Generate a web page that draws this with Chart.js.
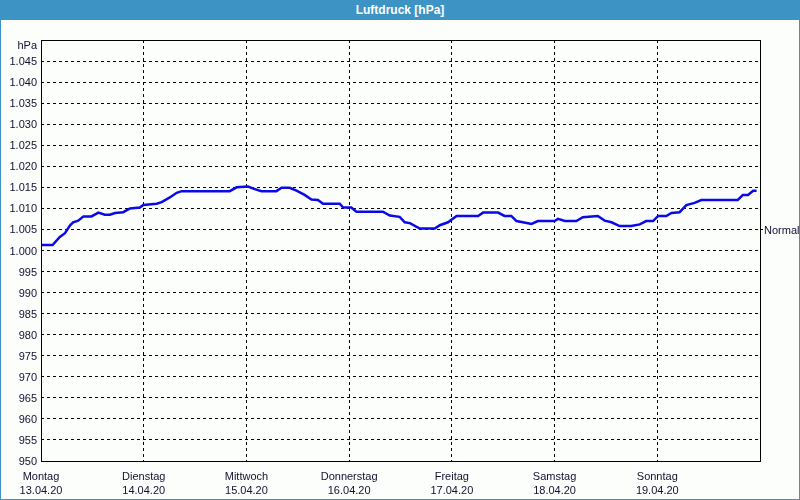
<!DOCTYPE html>
<html>
<head>
<meta charset="utf-8">
<script src="https://cdn.jsdelivr.net/npm/chart.js@4/dist/chart.umd.min.js"></script>
<style>
  html, body { margin: 0; padding: 0; background: #fcfefc; }
  #frame {
    position: absolute; left: 0; top: 0;
    width: 800px; height: 500px;
    box-sizing: border-box;
    border: 1px solid #3c93c4;
    background: #fcfefc;
  }
  #titlebar {
    position: absolute; left: 0; top: 0;
    width: 800px; height: 20px;
    background: #3c93c4;
    color: #fff;
    font: bold 12px "Liberation Sans", sans-serif;
    line-height: 20px;
    text-align: center;
  }
  #wrap { position: absolute; left: 1px; top: 20px; width: 798px; height: 479px; }
</style>
</head>
<body>
<div id="frame"></div>
<div id="titlebar">Luftdruck [hPa]</div>
<div id="wrap"><canvas id="myChart" width="798" height="479"></canvas></div>
<script>
  // hours since Montag 00:00 and pressure readings [hPa]
  const hours = [0, 2.7, 4.4, 5.6, 6.8, 7.5, 8.7, 9.9, 11.8, 13.4, 14.9, 16.1, 17.3, 19.2, 20.8, 23.1, 23.9,
    27.0, 28.2, 30.1, 31.7, 32.9, 44.1, 45.7, 48.4, 49.6, 51.5, 55.0, 56.2, 58.1, 59.7, 61.6, 63.2, 64.7, 65.9,
    69.8, 70.6, 72.5, 73.7, 79.9, 81.5, 83.8, 85.0, 86.2, 88.5, 92.0, 93.2, 95.1, 97.1, 102.1, 103.3, 106.8,
    108.3, 109.9, 111.1, 112.6, 114.6, 116.1, 120.0, 120.8, 122.4, 125.1, 126.6, 130.1, 131.7, 133.3, 135.2,
    137.9, 139.9, 141.4, 143.0, 144.2, 146.1, 147.3, 149.2, 150.8, 152.7, 154.3, 162.8, 164.0, 165.2, 166.4, 167.2];
  const pressure = [1001.3, 1001.3, 1003.2, 1004.1, 1006.0, 1006.7, 1007.1, 1008.1, 1008.1, 1009.0, 1008.5, 1008.5,
    1008.9, 1009.1, 1010.0, 1010.2, 1010.8, 1011.1, 1011.5, 1012.6, 1013.7, 1014.1, 1014.1, 1015.0, 1015.2,
    1014.7, 1014.1, 1014.1, 1014.9, 1014.9, 1014.2, 1013.2, 1012.1, 1012.0, 1011.1, 1011.1, 1010.2, 1010.2,
    1009.2, 1009.2, 1008.3, 1008.0, 1006.7, 1006.5, 1005.2, 1005.2, 1006.0, 1006.7, 1008.2, 1008.2, 1009.0,
    1009.0, 1008.2, 1008.2, 1007.0, 1006.7, 1006.3, 1007.0, 1007.0, 1007.5, 1007.0, 1007.0, 1007.9, 1008.2,
    1007.1, 1006.7, 1005.8, 1005.8, 1006.2, 1007.0, 1007.0, 1008.2, 1008.2, 1008.9, 1009.1, 1010.8, 1011.3,
    1012.0, 1012.0, 1013.2, 1013.2, 1014.2, 1014.2];

  const dayNames = ['Montag', 'Dienstag', 'Mittwoch', 'Donnerstag', 'Freitag', 'Samstag', 'Sonntag'];
  const dayDates = ['13.04.20', '14.04.20', '15.04.20', '16.04.20', '17.04.20', '18.04.20', '19.04.20'];

  const yMin = 950;
  const yMax = 1050;
  const yStep = 5;
  const normalValue = 1005;

  const fontFamily = '"Liberation Sans", sans-serif';
  const textColor = '#101030';

  const formatPressure = function(v){
    if(v === yMax) return '';
    if(v >= 1000) return Math.floor(v / 1000) + '.' + String(v % 1000).padStart(3, '0');
    return String(v);
  };

  // solid frame round the plot, unit label and the "Normal" marker on the right
  const framePlugin = {
    id: 'frame',
    afterDatasetsDraw(chart){
      const ctx = chart.ctx;
      const a = chart.chartArea;
      ctx.save();
      ctx.strokeStyle = '#000';
      ctx.lineWidth = 1;
      ctx.setLineDash([]);
      ctx.strokeRect(Math.round(a.left) + 0.5, Math.round(a.top) + 0.5,
        Math.round(a.right - a.left), Math.round(a.bottom - a.top));

      ctx.fillStyle = textColor;
      ctx.font = '11px ' + fontFamily;
      ctx.textBaseline = 'middle';

      ctx.textAlign = 'right';
      ctx.fillText('hPa', a.left - 4, a.top + 6);

      const yN = Math.round(chart.scales.y.getPixelForValue(normalValue)) + 0.5;
      ctx.beginPath();
      ctx.moveTo(a.right, yN);
      ctx.lineTo(a.right + 3, yN);
      ctx.stroke();
      ctx.textAlign = 'left';
      ctx.fillText('Normal', a.right + 4, yN + 1);
      ctx.restore();
    }
  };

  const ctx = document.getElementById('myChart').getContext('2d');
  // eslint-disable-next-line no-undef, no-unused-vars
  const myChart = new Chart(ctx, {
    type: 'line',
    data: {
      datasets: [
        {
          label: 'Luftdruck',
          data: hours.map((h, i) => ({x: h, y: pressure[i]})),
          borderColor: '#0a0ae8',
          borderWidth: 2.5,
          pointRadius: 0,
          tension: 0,
          fill: false,
        }
      ]
    },
    options: {
      responsive: false,
      animation: false,
      layout: {
        padding: { top: 20, right: 39, left: 0, bottom: 0 },
      },
      plugins: {
        legend: { display: false },
        tooltip: { enabled: false },
      },
      scales: {
        x: {
          type: 'linear',
          min: 0,
          max: 168,
          afterFit: (scale) => { scale.height = 38; },
          afterBuildTicks: (scale) => {
            scale.ticks = [0, 24, 48, 72, 96, 120, 144, 168].map(v => ({value: v}));
          },
          grid: { color: '#000', lineWidth: 1, drawTicks: false },
          border: { display: false, dash: [3, 3] },
          ticks: {
            padding: 8,
            maxRotation: 0,
            autoSkip: false,
            color: textColor,
            font: { family: fontFamily, size: 11, lineHeight: 1.36 },
            callback: function(value){
              const i = Math.round(value / 24);
              if(i >= dayNames.length) return '';
              return [dayNames[i], dayDates[i]];
            },
          },
        },
        y: {
          min: yMin,
          max: yMax,
          afterFit: (scale) => { scale.width = 40; },
          grid: { color: '#000', lineWidth: 1, drawTicks: false },
          border: { display: false, dash: [3, 3] },
          ticks: {
            stepSize: yStep,
            padding: 4,
            labelOffset: 1,
            color: textColor,
            font: { family: fontFamily, size: 11 },
            callback: (value) => formatPressure(value),
          },
        },
      },
    },
    plugins: [framePlugin],
  });
</script>
</body>
</html>
